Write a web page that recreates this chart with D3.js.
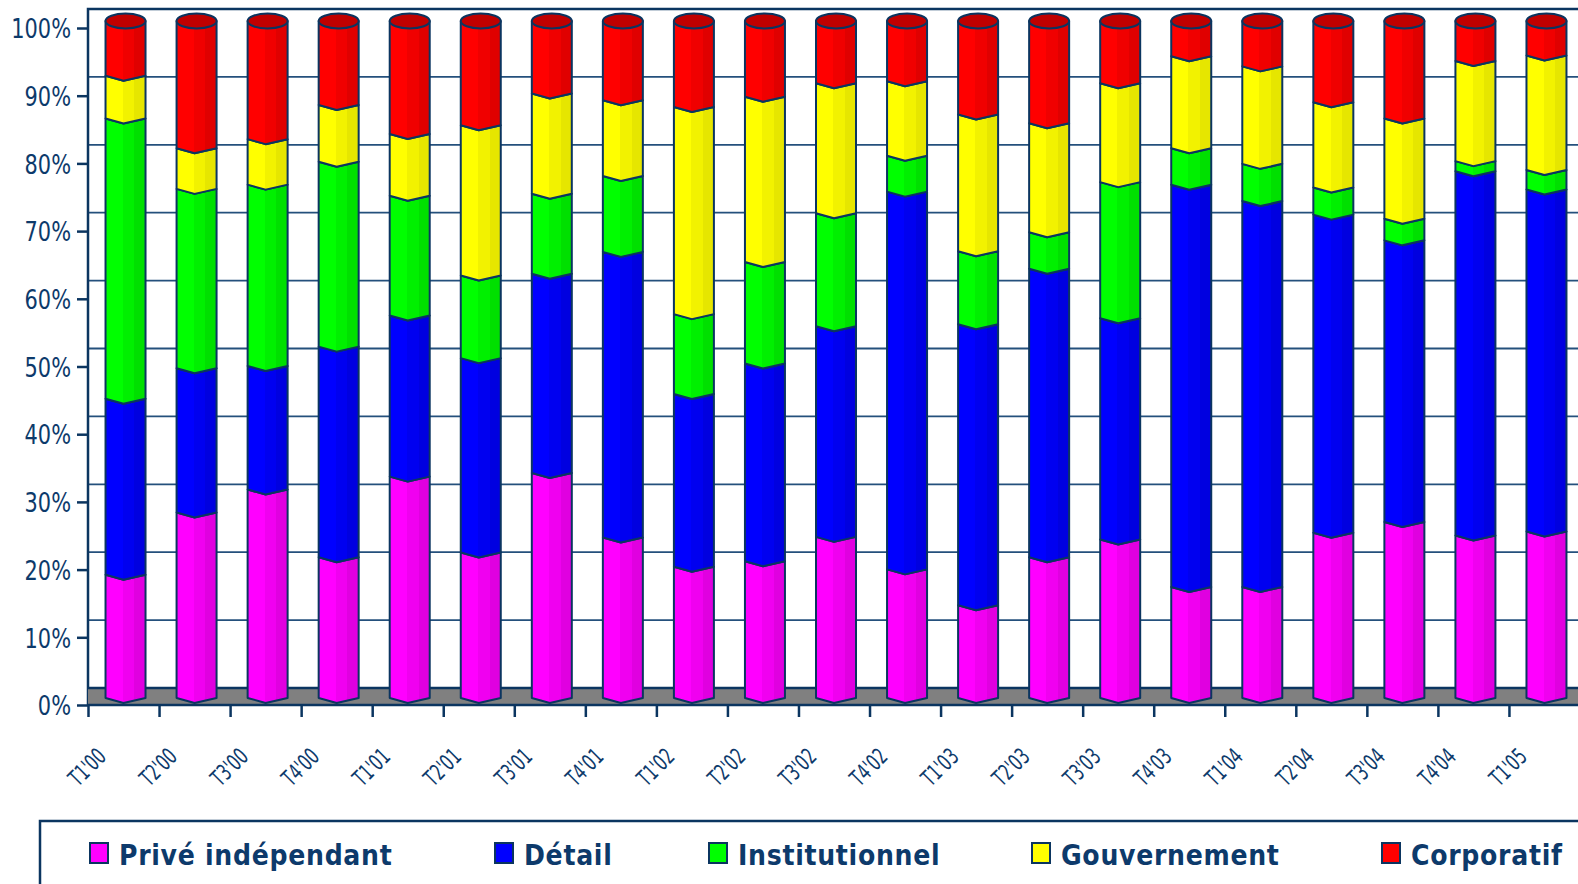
<!DOCTYPE html>
<html>
<head>
<meta charset="utf-8">
<script src="https://cdn.jsdelivr.net/npm/d3@7"></script>
<style>
  body { margin: 0; background: #fff; }
  svg { display: block; }
  .ylab { font-family: "DejaVu Sans Condensed", "DejaVu Sans", sans-serif; font-size: 27px; fill: #0d3a6b; }
  .xlab { font-family: "DejaVu Sans Condensed", "DejaVu Sans", sans-serif; font-size: 23px; fill: #0d3a6b; }
  .leg { font-family: "DejaVu Sans Condensed", "DejaVu Sans", sans-serif; font-weight: bold; font-size: 28px; letter-spacing: 0.7px; fill: #0d3a6b; }
</style>
</head>
<body>
<div id="chart"></div>
<script>
// quarters
var categories = ["T1'00", "T2'00", "T3'00", "T4'00", "T1'01", "T2'01", "T3'01", "T4'01",
  "T1'02", "T2'02", "T3'02", "T4'02", "T1'03", "T2'03", "T3'03", "T4'03",
  "T1'04", "T2'04", "T3'04", "T4'04", "T1'05"];

// shares in %
var prive = [18.2, 27.4, 30.7, 20.8, 32.7, 21.5, 33.2, 23.7, 19.4, 20.2, 23.8, 19.0, 13.7, 20.8, 23.4, 16.4, 16.4, 24.4, 26.0, 24.0, 24.6];
var detail = [26.0, 21.3, 18.2, 31.1, 23.8, 28.7, 29.4, 42.2, 25.5, 29.2, 31.1, 55.8, 41.5, 42.6, 32.7, 59.4, 57.0, 47.0, 41.6, 53.8, 50.5];
var institutionnel = [41.4, 26.5, 26.7, 27.3, 17.7, 12.2, 11.8, 11.2, 11.8, 15.0, 16.7, 5.3, 10.8, 5.4, 20.1, 5.4, 5.5, 4.0, 3.2, 1.5, 2.9];
var gouvernement = [6.3, 6.0, 6.7, 8.4, 9.1, 22.2, 14.8, 11.2, 30.6, 24.4, 19.2, 11.0, 20.2, 16.1, 14.6, 13.6, 14.4, 12.6, 14.8, 14.8, 16.9];
var corporatif = [8.1, 18.8, 17.4, 12.4, 16.7, 15.4, 10.7, 11.7, 12.7, 11.2, 9.2, 8.9, 13.8, 15.1, 9.2, 5.2, 6.7, 12.0, 14.4, 5.9, 5.1];

var seriesNames = ["Privé indépendant", "Détail", "Institutionnel", "Gouvernement", "Corporatif"];
var yTicks = [0, 10, 20, 30, 40, 50, 60, 70, 80, 90, 100];

var svgWidth = 1578;
var svgHeight = 884;

// shades: front, middle, right facet
var shades = [
  ["#ff00ff", "#f000f0", "#e000e0"],
  ["#0000ff", "#0000f0", "#0000e0"],
  ["#00ff00", "#00f000", "#00e000"],
  ["#ffff00", "#f2f200", "#e6e600"],
  ["#ff0000", "#f00000", "#e00000"]
];
var navy = "#0b3560";

var rows = categories.map(function(c, i) {
  return { cat: c, s0: prive[i], s1: detail[i], s2: institutionnel[i], s3: gouvernement[i], s4: corporatif[i] };
});
var keys = ["s0", "s1", "s2", "s3", "s4"];
var stacked = d3.stack().keys(keys).offset(d3.stackOffsetExpand)(rows);

var svg = d3.select("#chart").append("svg")
  .attr("width", svgWidth)
  .attr("height", svgHeight);

var defs = svg.append("defs");
shades.forEach(function(s, k) {
  var g = defs.append("linearGradient").attr("id", "g" + k)
    .attr("x1", 0).attr("x2", 1).attr("y1", 0).attr("y2", 0);
  [[0, 0], [0.43, 0], [0.43, 1], [0.72, 1], [0.72, 2], [1, 2]].forEach(function(st) {
    g.append("stop").attr("offset", st[0]).attr("stop-color", s[st[1]]);
  });
});

// squeeze a text horizontally (the original font is narrow)
function squeeze(sel, f) {
  sel.each(function() {
    var w = this.getComputedTextLength();
    d3.select(this).attr("textLength", w * f).attr("lengthAdjust", "spacingAndGlyphs");
  });
}

var left = 88, right = 1580;
var x = d3.scaleBand().domain(categories).range([left, right]).padding(0);
var y = d3.scaleLinear().domain([0, 100]).range([705, 28]);
var wall = d3.scaleLinear().domain([0, 100]).range([688, 9]);
var bw = x.bandwidth();

// back wall grid
svg.append("g").selectAll("line")
  .data(yTicks.slice(1, -1))
  .enter().append("line")
  .attr("x1", left).attr("x2", svgWidth)
  .attr("y1", d => wall(d)).attr("y2", d => wall(d))
  .attr("stroke", "#24507c").attr("stroke-width", 1.8);

// top and left border
svg.append("path")
  .attr("d", `M${left},${y(0)}V${wall(100)}H${svgWidth}`)
  .attr("fill", "none").attr("stroke", navy).attr("stroke-width", 2.5);

// floor
svg.append("rect")
  .attr("x", left).attr("y", wall(0))
  .attr("width", svgWidth - left).attr("height", y(0) - wall(0))
  .attr("fill", "#808080");
svg.append("line")
  .attr("x1", left).attr("x2", svgWidth).attr("y1", wall(0)).attr("y2", wall(0))
  .attr("stroke", navy).attr("stroke-width", 2.5);
svg.append("line")
  .attr("x1", left).attr("x2", svgWidth).attr("y1", y(0)).attr("y2", y(0))
  .attr("stroke", navy).attr("stroke-width", 2.5);

// y axis
var yAxis = svg.append("g")
  .attr("transform", `translate(${left},0)`)
  .call(d3.axisLeft(y).tickValues(yTicks).tickFormat(d => d + "%").tickSize(11).tickPadding(6));
yAxis.select(".domain").remove();
yAxis.attr("font-family", null).attr("font-size", null);
yAxis.selectAll(".tick line").attr("stroke", navy).attr("stroke-width", 2.5);
yAxis.selectAll(".tick text").attr("class", "ylab").attr("fill", null).attr("dy", "0.36em")
  .call(squeeze, 0.86);

// x axis tick marks at category boundaries
var xb = d3.scaleLinear().domain([0, categories.length]).range([left, right]);
var xTickG = svg.append("g")
  .attr("transform", `translate(0,${y(0)})`)
  .call(d3.axisBottom(xb).tickValues(d3.range(0, categories.length)).tickFormat("").tickSize(12));
xTickG.select(".domain").remove();
xTickG.selectAll(".tick line").attr("stroke", navy).attr("stroke-width", 2.5);

// x labels
var xAxis = svg.append("g")
  .attr("transform", `translate(0,${y(0)})`)
  .call(d3.axisBottom(x).tickSize(0));
xAxis.select(".domain").remove();
xAxis.attr("font-family", null).attr("font-size", null);
xAxis.selectAll(".tick text")
  .attr("class", "xlab")
  .attr("fill", null)
  .attr("text-anchor", "end")
  .attr("y", 0).attr("dy", 0)
  .attr("transform", "translate(-16,53) rotate(-45)")
  .call(squeeze, 0.72);

// cylinders
var barW = 40, dx = 2, dy = -7, dip = 5;
var bars = svg.append("g");

stacked.forEach(function(layer, k) {
  bars.append("g").selectAll("path")
    .data(layer)
    .enter().append("path")
    .attr("d", function(d) {
      var x0 = x(d.data.cat) + (bw - barW) / 2 + dx, x1 = x0 + barW, xm = x0 + barW * 0.45;
      var yt = y(d[1] * 100) + dy, yb = y(d[0] * 100) + dy;
      return `M${x0},${yt}L${xm},${yt + dip}L${x1},${yt}L${x1},${yb}L${xm},${yb + dip}L${x0},${yb}Z`;
    })
    .attr("fill", "url(#g" + k + ")")
    .attr("stroke", navy).attr("stroke-width", 2).attr("stroke-linejoin", "round");
});

// top caps
bars.append("g").selectAll("ellipse")
  .data(categories)
  .enter().append("ellipse")
  .attr("cx", c => x(c) + bw / 2 + dx)
  .attr("cy", y(100) + dy)
  .attr("rx", barW / 2).attr("ry", 7.5)
  .attr("fill", "#c00000")
  .attr("stroke", navy).attr("stroke-width", 2);

// legend
var legendX = [90, 495, 709, 1032, 1382];
svg.append("rect")
  .attr("x", 40).attr("y", 821).attr("width", 1600).attr("height", 120)
  .attr("fill", "#fff").attr("stroke", navy).attr("stroke-width", 2.5);

var leg = svg.append("g").selectAll("g")
  .data(seriesNames)
  .enter().append("g")
  .attr("transform", (d, i) => `translate(${legendX[i]},843)`);
leg.append("rect")
  .attr("width", 18).attr("height", 20)
  .attr("fill", (d, i) => shades[i][0])
  .attr("stroke", navy).attr("stroke-width", 2);
leg.append("text")
  .attr("class", "leg")
  .attr("x", 29).attr("y", 22)
  .text(d => d);
</script>
</body>
</html>
